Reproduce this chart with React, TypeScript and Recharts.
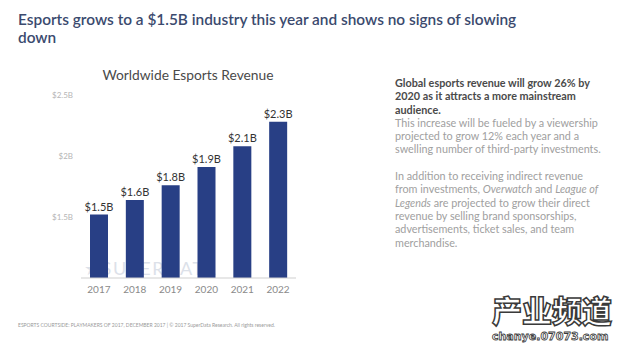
import React from "react";
import { BarChart, Bar, XAxis, YAxis, LabelList } from "recharts";

const years = ["2017", "2018", "2019", "2020", "2021", "2022"];
const revenue = [1.52, 1.64, 1.76, 1.91, 2.08, 2.28];
const yTicks = [1.5, 2, 2.5];

const data = years.map((y, i) => ({ year: y, revenue: revenue[i] }));

const fmtTick = (v: number) => `$${v}B`;
const fmtLabel = (v: number) => `$${Number(v).toFixed(1)}B`;

const FONT = "Lato, 'Open Sans', sans-serif";

export default function App() {
  return (
    <div
      style={{
        position: "absolute",
        left: 0,
        top: 0,
        width: 622,
        height: 352,
        background: "#ffffff",
        fontFamily: FONT,
        overflow: "hidden",
      }}
    >
      <div
        style={{
          position: "absolute",
          left: 18,
          top: 10,
          fontSize: 15.4,
          lineHeight: "18px",
          color: "#3b4a6e",
          fontWeight: 600,
          whiteSpace: "nowrap",
        }}
      >
        Esports grows to a $1.5B industry this year and shows no signs of slowing
        <br />
        down
      </div>

      <div
        style={{
          position: "absolute",
          left: 0,
          top: 66,
          width: 376,
          textAlign: "center",
          fontSize: 13.8,
          color: "#4a4a4a",
        }}
      >
        Worldwide Esports Revenue
      </div>

      <div
        style={{
          position: "absolute",
          left: 84,
          top: 257,
          fontSize: 18,
          letterSpacing: 1.6,
          color: "#dce1e9",
          whiteSpace: "nowrap",
        }}
      >
        ★SUPERDATA
      </div>

      <div style={{ position: "absolute", left: 0, top: 60 }}>
        <BarChart
          width={320}
          height={240}
          data={data}
          margin={{ top: 35, right: 24, bottom: 0, left: 0 }}
        >
          <YAxis
            domain={[1, 2.5]}
            ticks={yTicks}
            tickFormatter={fmtTick}
            axisLine={false}
            tickLine={false}
            width={81}
            tickMargin={2}
            tick={{ fontSize: 8, fill: "#b5b5b5", fontFamily: FONT }}
          />
          <XAxis
            dataKey="year"
            height={22}
            tickLine={false}
            axisLine={{ stroke: "#cfcfcf" }}
            tickMargin={2}
            tick={{ fontSize: 10, fill: "#8a8a8a", fontFamily: FONT }}
          />
          <Bar dataKey="revenue" fill="#283f85" barSize={18} isAnimationActive={false}>
            <LabelList
              dataKey="revenue"
              position="top"
              offset={4}
              formatter={fmtLabel}
              style={{ fontSize: 11, fill: "#333333", fontFamily: FONT }}
            />
          </Bar>
        </BarChart>
      </div>

      <div
        style={{
          position: "absolute",
          left: 395,
          top: 76,
          width: 224,
          fontSize: 10.8,
          lineHeight: "13.3px",
          color: "#a0a0a0",
          whiteSpace: "nowrap",
        }}
      >
        <div style={{ fontWeight: 700, color: "#4a4a4a" }}>
          Global esports revenue will grow 26% by
          <br />
          2020 as it attracts a more mainstream
          <br />
          audience.
        </div>
        <div>
          This increase will be fueled by a viewership
          <br />
          projected to grow 12% each year and a
          <br />
          swelling number of third-party investments.
        </div>
        <div style={{ height: 13.3 }} />
        <div>
          In addition to receiving indirect revenue
          <br />
          from investments, <i>Overwatch</i> and <i>League of</i>
          <br />
          <i>Legends</i> are projected to grow their direct
          <br />
          revenue by selling brand sponsorships,
          <br />
          advertisements, ticket sales, and team
          <br />
          merchandise.
        </div>
      </div>

      <div
        style={{
          position: "absolute",
          left: 18,
          top: 322,
          fontSize: 5,
          color: "#9a9a9a",
          whiteSpace: "nowrap",
        }}
      >
        ESPORTS COURTSIDE: PLAYMAKERS OF 2017, DECEMBER 2017 | © 2017 SuperData Research. All rights reserved.
      </div>

      <div
        style={{
          position: "absolute",
          left: 492,
          top: 292,
          fontFamily: "'Noto Sans CJK SC', sans-serif",
          fontWeight: 900,
          fontSize: 30,
          lineHeight: "34px",
          color: "#ffffff",
          WebkitTextStroke: "1.5px #3a3a3a",
          whiteSpace: "nowrap",
        }}
      >
        产业频道
      </div>
      <div
        style={{
          position: "absolute",
          left: 492,
          top: 330,
          fontFamily: "'DejaVu Sans', sans-serif",
          fontWeight: 700,
          fontSize: 11,
          lineHeight: "14px",
          color: "#ffffff",
          WebkitTextStroke: "0.8px #3a3a3a",
          whiteSpace: "nowrap",
        }}
      >
        chanye.07073.com
      </div>
    </div>
  );
}
